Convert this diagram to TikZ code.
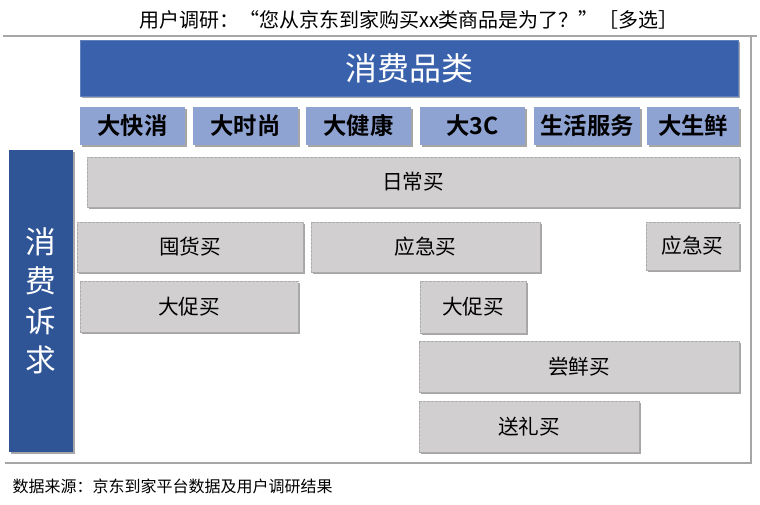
\documentclass[tikz,border=0pt]{standalone}
\usepackage{fontspec}
\setmainfont{Noto Sans CJK SC}[BoldFont={Noto Sans CJK SC Bold}]
\usetikzlibrary{fit,shadows}
\definecolor{hdrblue}{HTML}{3A62AC}
\definecolor{catblue}{HTML}{8FA3D3}
\definecolor{sideblue}{HTML}{2F5597}
\definecolor{boxgray}{HTML}{D1CFD0}
\definecolor{framegray}{HTML}{A6A6A6}
\newcommand\needfont{\fontsize{15.5}{18}\selectfont}
\newcommand\catfont{\fontsize{17.5}{20}\selectfont\bfseries}
\tikzset{
  shad/.style={drop shadow={shadow xshift=1.2pt, shadow yshift=-1.2pt, opacity=0.35, fill=black}},
  hdr/.style={fill=hdrblue, draw=hdrblue!80!white, inner sep=0pt, shad},
  cat/.style={fill=catblue, inner sep=0pt, shad},
  side/.style={fill=sideblue, inner sep=0pt, shad},
  need/.style={fill=boxgray, draw=gray!65, dashed, dash pattern=on 2pt off 1pt, inner sep=0pt, shad},
  frame/.style={draw=framegray, line width=1.5pt}
}
\begin{document}
\begin{tikzpicture}[x=0.75pt,y=-0.75pt]
\useasboundingbox (0,0) rectangle (760,504);
\node (title) at (409,20) {\fontsize{15}{18}\selectfont 用户调研：“您从京东到家购买xx类商品是为了？”［多选］};
\coordinate (tl) at (3,36); \coordinate (tr) at (757,36);
\coordinate (rt) at (751,36); \coordinate (rb) at (751,463); \coordinate (bl) at (5,463);
\draw[frame] (tl) -- (tr);
\draw[frame] (rt) -- (rb) -- (bl);
\node[hdr, fit={(80,40)(738,96)}] (header) {};
\node at (header.center) (headertext) {\color{white}\fontsize{24}{28}\selectfont 消费品类};
\node[cat, fit={(80,107)(185,145)}] (c1) {};
\node at (c1.center) {\catfont 大快消};
\node[cat, fit={(193,107)(298,145)}] (c2) {};
\node at (c2.center) {\catfont 大时尚};
\node[cat, fit={(306,107)(411,145)}] (c3) {};
\node at (c3.center) {\catfont 大健康};
\node[cat, fit={(420,107)(525,145)}] (c4) {};
\node at (c4.center) {\catfont 大3C};
\node[cat, fit={(534,107)(640,145)}] (c5) {};
\node at (c5.center) {\catfont 生活服务};
\node[cat, fit={(647,107)(739,145)}] (c6) {};
\node at (c6.center) {\catfont 大生鲜};
\node[side, fit={(9,150)(73,452)}] (side) {};
\node[align=center, text=white, font=\fontsize{23}{29.5}\selectfont] at (side.center) {消\\费\\诉\\求};
\node[need, fit={(87,157)(739,207)}] (n1) {};
\node at (n1.center) {\needfont 日常买};
\node[need, fit={(77,222)(303,272)}] (n2) {};
\node at (n2.center) {\needfont 囤货买};
\node[need, fit={(311,222)(540,272)}] (n3) {};
\node at (n3.center) {\needfont 应急买};
\node[need, fit={(646,222)(739,270)}] (n4) {};
\node at (n4.center) {\needfont 应急买};
\node[need, fit={(80,281)(298,332)}] (n5) {};
\node at (n5.center) {\needfont 大促买};
\node[need, fit={(420,281)(526,333)}] (n6) {};
\node at (n6.center) {\needfont 大促买};
\node[need, fit={(419,341)(739,392)}] (n7) {};
\node at (n7.center) {\needfont 尝鲜买};
\node[need, fit={(419,401)(639,452)}] (n8) {};
\node at (n8.center) {\needfont 送礼买};
\node[anchor=west] (src) at (8,486) {\fontsize{12}{14}\selectfont 数据来源：京东到家平台数据及用户调研结果};
\end{tikzpicture}
\end{document}
